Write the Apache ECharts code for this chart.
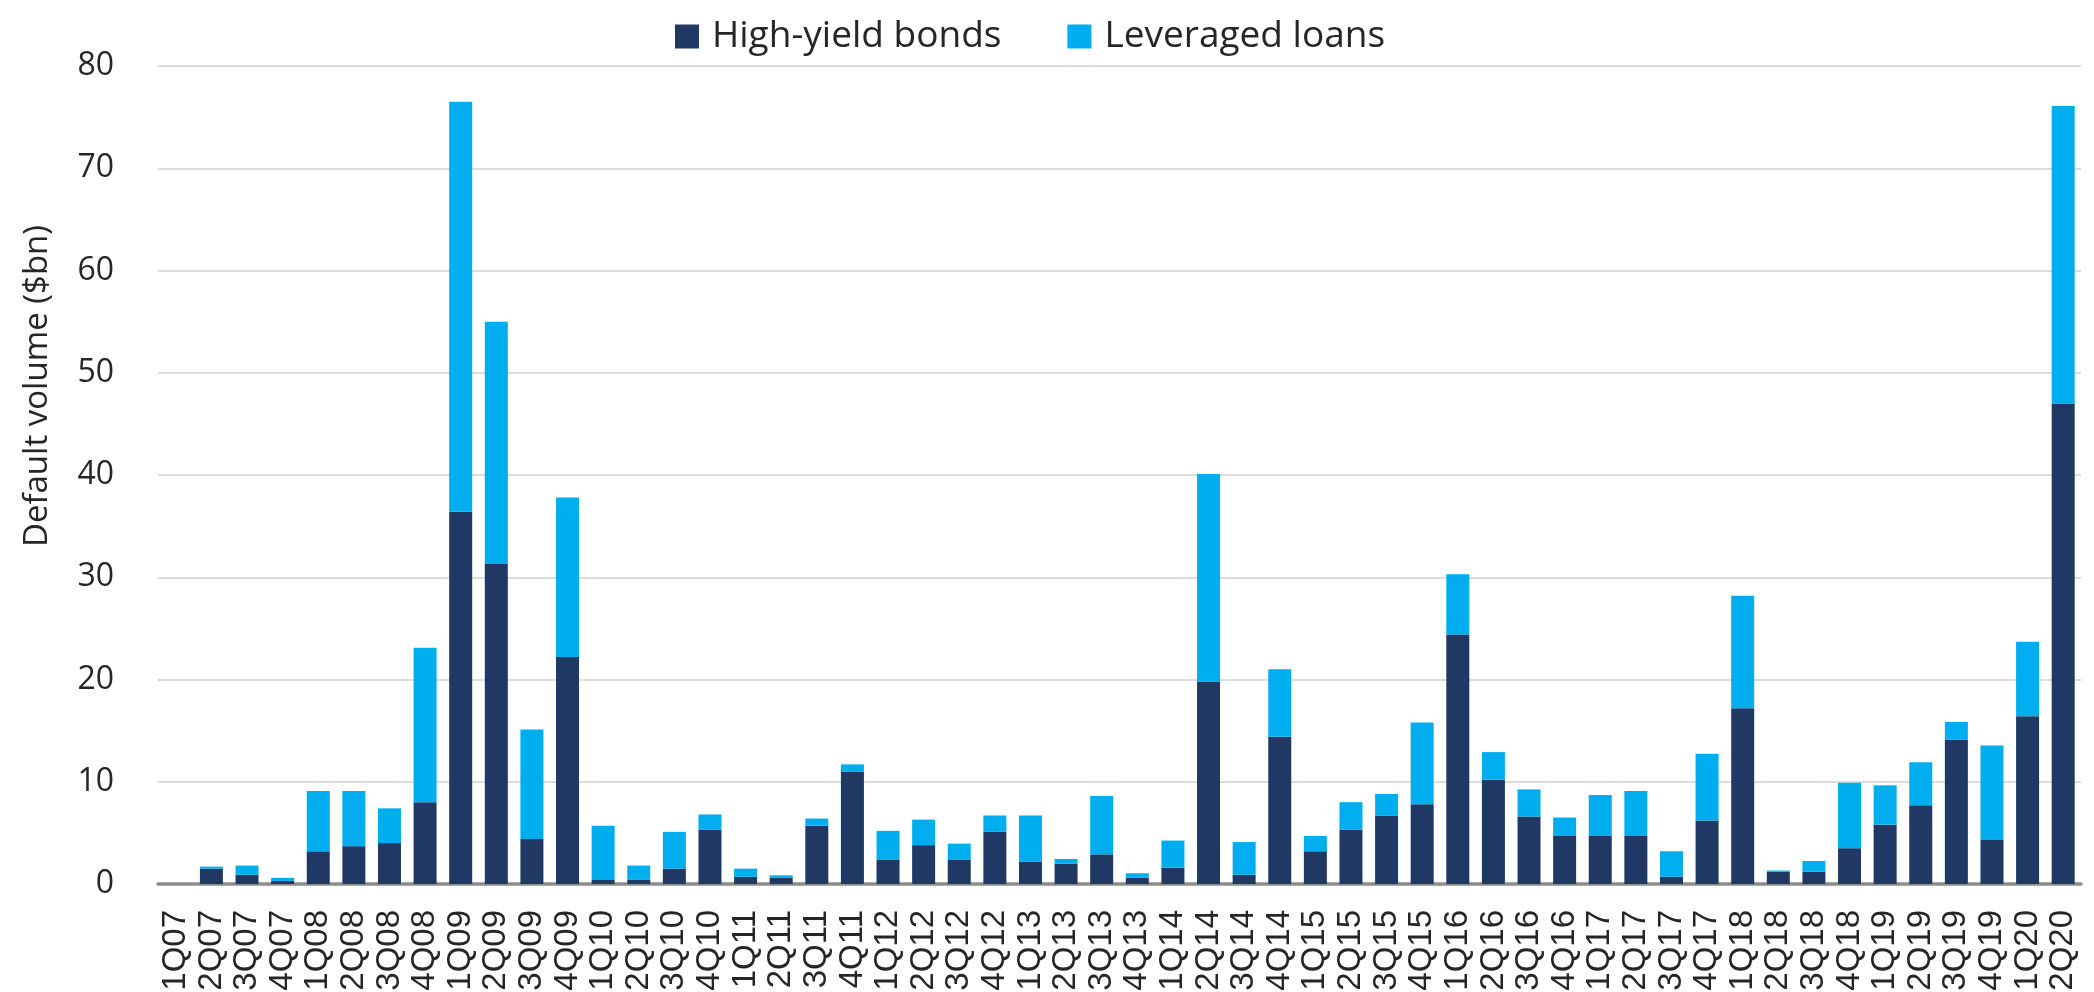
<!DOCTYPE html>
<html>
<head>
<meta charset="utf-8">
<title>Default volume</title>
<script src="https://cdn.jsdelivr.net/npm/echarts@6/dist/echarts.min.js"></script>
<style>
  html, body { margin: 0; padding: 0; background: #ffffff; }
  #chart { width: 2094px; height: 992px; }
</style>
</head>
<body>
<div id="chart"></div>
<script>
// Quarterly default volumes, $bn
const quarters = [
  '1Q07','2Q07','3Q07','4Q07','1Q08','2Q08','3Q08','4Q08',
  '1Q09','2Q09','3Q09','4Q09','1Q10','2Q10','3Q10','4Q10',
  '1Q11','2Q11','3Q11','4Q11','1Q12','2Q12','3Q12','4Q12',
  '1Q13','2Q13','3Q13','4Q13','1Q14','2Q14','3Q14','4Q14',
  '1Q15','2Q15','3Q15','4Q15','1Q16','2Q16','3Q16','4Q16',
  '1Q17','2Q17','3Q17','4Q17','1Q18','2Q18','3Q18','4Q18',
  '1Q19','2Q19','3Q19','4Q19','1Q20','2Q20'
];

const highYieldBonds = [
  0, 1.5, 0.9, 0.3, 3.2, 3.7, 4.0, 8.0,
  36.4, 31.3, 4.4, 22.2, 0.4, 0.4, 1.5, 5.3,
  0.7, 0.6, 5.7, 11.0, 2.4, 3.8, 2.4, 5.1,
  2.2, 2.0, 2.9, 0.6, 1.6, 19.8, 0.9, 14.4,
  3.2, 5.3, 6.7, 7.8, 24.4, 10.2, 6.6, 4.7,
  4.7, 4.7, 0.7, 6.2, 17.2, 1.2, 1.2, 3.5,
  5.8, 7.7, 14.1, 4.3, 16.4, 47.0
];

const leveragedLoans = [
  0, 0.2, 0.9, 0.3, 5.9, 5.4, 3.4, 15.1,
  40.1, 23.7, 10.7, 15.6, 5.3, 1.4, 3.6, 1.5,
  0.8, 0.25, 0.7, 0.7, 2.8, 2.5, 1.55, 1.6,
  4.5, 0.45, 5.7, 0.45, 2.65, 20.3, 3.2, 6.6,
  1.5, 2.7, 2.1, 8.0, 5.9, 2.7, 2.65, 1.8,
  4.0, 4.4, 2.5, 6.55, 11.0, 0.12, 1.05, 6.4,
  3.85, 4.2, 1.75, 9.25, 7.3, 29.1
];

const yTicks = { min: 0, max: 80, interval: 10 };

const NAVY = '#1f3864';
const CYAN = '#00aeef';
const TEXT = '#262626';

const chart = echarts.init(document.getElementById('chart'), null, { renderer: 'canvas' });

chart.setOption({
  backgroundColor: '#ffffff',
  animation: false,
  legend: {
    left: 670,
    top: 13,
    itemWidth: 24,
    itemHeight: 24,
    itemGap: 66,
    icon: 'rect',
    textStyle: {
      fontFamily: 'Open Sans',
      fontSize: 37,
      color: TEXT,
      padding: [0, 0, 0, 8]
    },
    data: ['High-yield bonds', 'Leveraged loans']
  },
  grid: {
    left: 158,
    right: 13,
    top: 66,
    bottom: 108,
    containLabel: false,
    outerBoundsMode: 'none'
  },
  xAxis: {
    type: 'category',
    data: quarters,
    axisLine: { show: true, lineStyle: { color: '#8c8c8c', width: 3.5 } },
    axisTick: { show: false },
    axisLabel: {
      interval: 0,
      rotate: 90,
      margin: 26,
      fontFamily: 'Liberation Sans',
      fontSize: 33,
      color: TEXT
    }
  },
  yAxis: {
    type: 'value',
    min: yTicks.min,
    max: yTicks.max,
    interval: yTicks.interval,
    axisLine: { show: false },
    axisTick: { show: false },
    splitLine: { lineStyle: { color: '#d0d0d0', width: 1.5 } },
    axisLabel: {
      margin: 44,
      fontFamily: 'Open Sans',
      fontSize: 32,
      color: TEXT
    }
  },
  graphic: [{
    type: 'text',
    x: 38,
    y: 386,
    rotation: Math.PI / 2,
    style: {
      text: 'Default volume ($bn)',
      fontFamily: 'Open Sans',
      fontSize: 33,
      fill: TEXT,
      align: 'center',
      verticalAlign: 'middle'
    }
  }],
  series: [
    {
      name: 'High-yield bonds',
      type: 'bar',
      stack: 'defaults',
      barWidth: 23,
      itemStyle: { color: NAVY },
      data: highYieldBonds
    },
    {
      name: 'Leveraged loans',
      type: 'bar',
      stack: 'defaults',
      barWidth: 23,
      itemStyle: { color: CYAN },
      data: leveragedLoans
    }
  ]
});
</script>
</body>
</html>
